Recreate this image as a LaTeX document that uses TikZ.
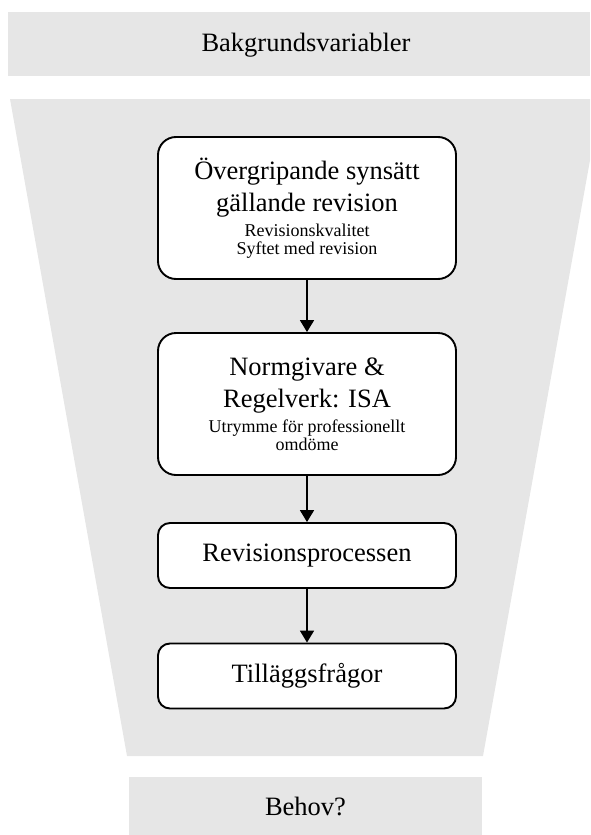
\documentclass[tikz,border=0pt]{standalone}
\usepackage{fontspec}
\setmainfont{Liberation Serif}
\usetikzlibrary{arrows.meta}
\definecolor{bandgray}{RGB}{230,230,230}
\newcommand\mysubfont{\fontsize{18}{18}\selectfont}
\begin{document}
\begin{tikzpicture}[x=1pt,y=-1pt,
  lbl/.style={font=\fontsize{26.5}{31}\selectfont, inner sep=0pt},
  boxbase/.style={draw=black, fill=white, line width=1.9pt, align=center,
    inner sep=0pt, minimum width=298pt, font=\fontsize{26.5}{32}\selectfont},
  bigbox/.style={boxbase, rounded corners=18pt, minimum height=142pt},
  smallbox/.style={boxbase, rounded corners=12pt, minimum height=65pt},
  flow/.style={line width=1.8pt, -{Triangle[length=12pt,width=14pt]}}
]
\useasboundingbox (0,0) rectangle (590,835);
\clip (0,0) rectangle (590,835);
% background bands
\fill[bandgray] (8,12) rectangle (590,76);
\fill[bandgray] (10,99) -- (601,99) -- (483,756) -- (127,756) -- cycle;
\fill[bandgray] (129,777) rectangle (482,835);
\node[lbl] (bg) at (306,45) {Bakgrundsvariabler};
\node[lbl] (behov) at (305.5,806) {Behov?};
% boxes
\node[bigbox] (b1) at (307,208) {Övergripande synsätt\\gällande revision\\[-7pt]{\mysubfont Revisionskvalitet}\\[-14pt]{\mysubfont Syftet med revision}};
\node[bigbox] (b2) at (307,404) {Normgivare \&\\Regelverk: ISA\\[-7pt]{\mysubfont Utrymme för professionellt}\\[-14pt]{\mysubfont omdöme}};
\node[smallbox] (b3) at (307,555.5) {Revisionsprocessen};
\node[smallbox] (b4) at (307,676) {Tilläggsfrågor};
% arrows
\draw[flow] (b1) -- (b2);
\draw[flow] (b2) -- (b3);
\draw[flow] (b3) -- (b4);
\end{tikzpicture}
\end{document}
